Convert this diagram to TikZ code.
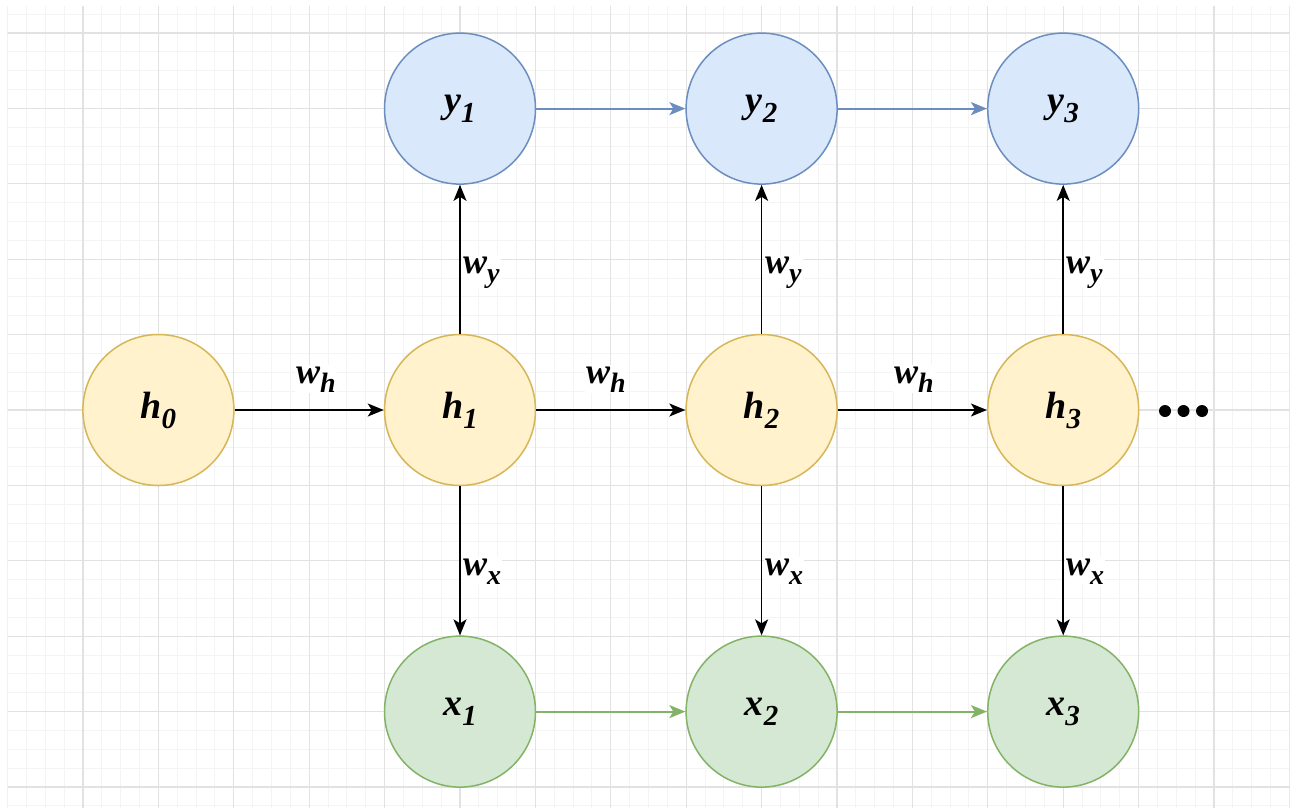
\documentclass[tikz,border=0pt]{standalone}
\usepackage{fontspec}
\setmainfont{Liberation Serif}
\usetikzlibrary{arrows.meta}
\definecolor{ylwfill}{HTML}{FFF2CC}
\definecolor{ylwline}{HTML}{D6B656}
\definecolor{bluefill}{HTML}{DAE8FC}
\definecolor{blueline}{HTML}{6C8EBF}
\definecolor{grnfill}{HTML}{D5E8D4}
\definecolor{grnline}{HTML}{82B366}
\definecolor{gridminor}{HTML}{F4F4F4}
\definecolor{gridmajor}{HTML}{E2E2E2}
\newcommand{\nodetxt}[2]{{\fontsize{38}{38}\selectfont\bfseries\itshape #1\raisebox{-10pt}{\fontsize{29}{29}\selectfont #2}}}
\newcommand{\wlab}[1]{{\fontsize{36}{36}\selectfont\bfseries\itshape w\raisebox{-9pt}{\fontsize{28}{28}\selectfont #1}}}
\begin{document}
\begin{tikzpicture}[x=1pt,y=-1pt,
  minorline/.style={gridminor, line width=1pt},
  majorline/.style={gridmajor, line width=1.2pt},
  circ/.style={circle, minimum size=151pt, inner sep=0pt, line width=1.5pt},
  hnode/.style={circ, draw=ylwline, fill=ylwfill},
  ynode/.style={circ, draw=blueline, fill=bluefill},
  xnode/.style={circ, draw=grnline, fill=grnfill},
  conn/.style={line width=1.7pt, -{Stealth[length=16pt, width=13pt, inset=4pt]}},
  colconn/.style={conn, line width=2.1pt},
  wlabel/.style={fill=white, inner sep=1pt, anchor=base west}
]
\useasboundingbox (0,0) rectangle (1296,807);
\fill[white] (0,0) rectangle (1296,807);
\begin{scope}
  \clip (7.6,6) rectangle (1289.6,807);
  \foreach \i in {0,...,68} \draw[minorline] ({7.6+\i*18.85},0) -- ++(0,810);
  \foreach \j in {-2,...,41} \draw[minorline] (0,{33+\j*18.85}) -- ++(1300,0);
  \foreach \i in {0,...,17} \draw[majorline] ({7.6+\i*75.4},0) -- ++(0,810);
  \foreach \j in {-1,...,10} \draw[majorline] (0,{33+\j*75.4}) -- ++(1300,0);
\end{scope}

\node[hnode] (h0) at (158.4,410) {\nodetxt{h}{0}};
\node[hnode] (h1) at (460,410) {\nodetxt{h}{1}};
\node[hnode] (h2) at (761.6,410) {\nodetxt{h}{2}};
\node[hnode] (h3) at (1063.2,410) {\nodetxt{h}{3}};
\node[ynode] (y1) at (460,108.6) {\nodetxt{y}{1}};
\node[ynode] (y2) at (761.6,108.6) {\nodetxt{y}{2}};
\node[ynode] (y3) at (1063.2,108.6) {\nodetxt{y}{3}};
\node[xnode] (x1) at (460,711.6) {\nodetxt{x}{1}};
\node[xnode] (x2) at (761.6,711.6) {\nodetxt{x}{2}};
\node[xnode] (x3) at (1063.2,711.6) {\nodetxt{x}{3}};

\draw[conn] (h0) -- (h1);
\draw[conn] (h1) -- (h2);
\draw[conn] (h2) -- (h3);
\draw[conn] (h1) -- (y1);
\draw[conn] (h2) -- (y2);
\draw[conn] (h3) -- (y3);
\draw[conn] (h1) -- (x1);
\draw[conn] (h2) -- (x2);
\draw[conn] (h3) -- (x3);
\draw[colconn, blueline] (y1) -- (y2);
\draw[colconn, blueline] (y2) -- (y3);
\draw[colconn, grnline] (x1) -- (x2);
\draw[colconn, grnline] (x2) -- (x3);

\node[wlabel] (lh1) at (295,383) {\wlab{h}};
\node[wlabel] (lh2) at (585,383) {\wlab{h}};
\node[wlabel] (lh3) at (893,383) {\wlab{h}};
\node[wlabel] (ly1) at (462,273) {\wlab{y}};
\node[wlabel] (ly2) at (764,273) {\wlab{y}};
\node[wlabel] (ly3) at (1065,273) {\wlab{y}};
\node[wlabel] (lx1) at (462,575) {\wlab{x}};
\node[wlabel] (lx2) at (764,575) {\wlab{x}};
\node[wlabel] (lx3) at (1065,575) {\wlab{x}};

\fill (1165,411) circle (6pt);
\fill (1183.5,411) circle (6pt);
\fill (1202,411) circle (6pt);
\end{tikzpicture}
\end{document}
